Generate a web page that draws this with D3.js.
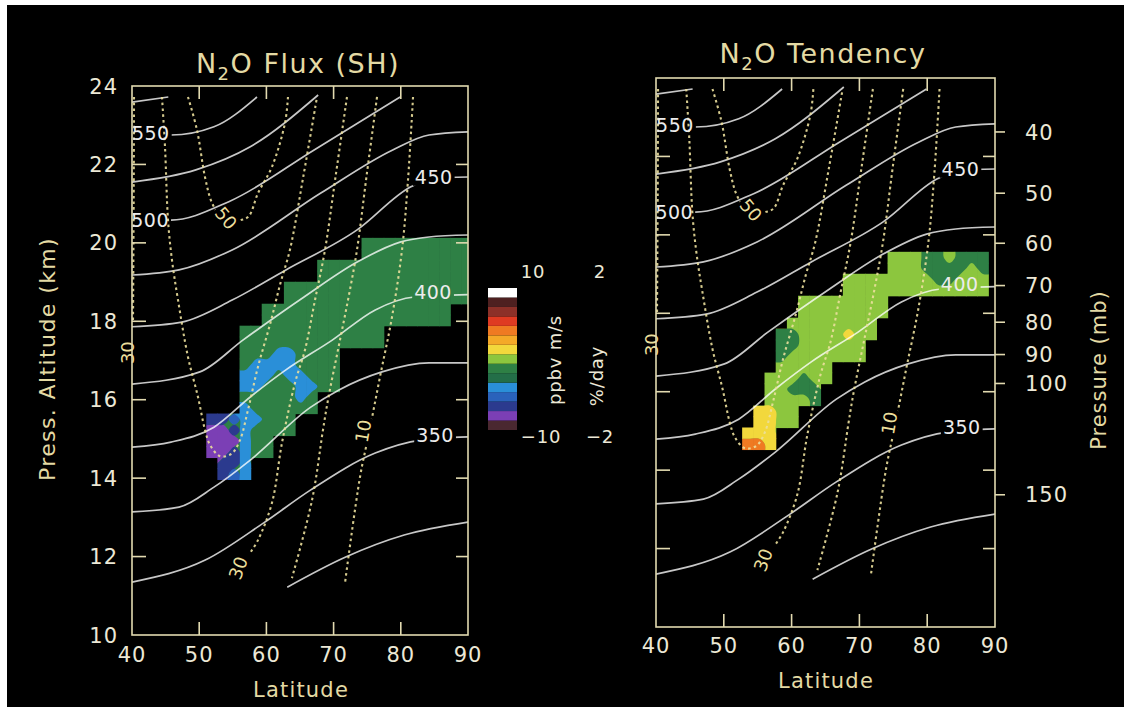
<!DOCTYPE html>
<html>
<head>
<meta charset="utf-8">
<title>N2O flux and tendency</title>
<script src="https://cdn.jsdelivr.net/npm/d3@7/dist/d3.min.js"></script>
<style>
  html, body { margin: 0; padding: 0; background: #ffffff; }
  svg { display: block; }
  text { font-family: "DejaVu Sans", "Liberation Sans", sans-serif; }
</style>
</head>
<body>
<svg id="fig" width="1124" height="707"></svg>
<script>
// ---------------- axes ----------------
const latTicks = [40, 50, 60, 70, 80, 90];
const latInnerTicks = [50, 60, 70, 80];
const kmTicks = [10, 12, 14, 16, 18, 20, 22, 24];
const kmInnerTicks = [12, 14, 16, 18, 20, 22];
const pressureTicks = [40, 50, 60, 70, 80, 90, 100, 150];
const scaleHeightKm = 7;
const surfacePressureMb = 1013.25;

// ---------------- potential temperature (K), solid contours: [lat, km] ----------------
const thetaLevels = [575, 550, 525, 500, 475, 450, 425, 400, 375, 350, 325];
const thetaLines = [
  [[40,23.59],[45.4,23.72]],
  [[40,22.83],[45.8,22.75],[52.2,22.96],[58.6,23.72]],
  [[40,21.55],[49.5,21.86],[57.6,22.45],[67.7,23.77]],
  [[40,20.58],[45.8,20.58],[54.4,21.05],[67.1,22.37],[79.9,23.72]],
  [[40,19.18],[47.0,19.31],[54.9,19.82],[68.1,21.27],[78.8,22.37],[84.2,22.75],[90,22.83]],
  [[40,17.86],[47.4,17.98],[54.9,18.54],[62.9,19.31],[73.5,20.33],[81.5,21.43],[85,21.66],[90,21.68]],
  [[40,16.40],[50.1,16.71],[56.5,17.52],[65.6,18.62],[73.5,19.51],[79.9,20.02],[84.2,20.15],[90,20.20]],
  [[40,14.79],[45.8,14.92],[52.2,15.30],[57.6,16.07],[62.9,16.76],[69.8,17.52],[76.2,18.29],[82.0,18.62],[90,18.68]],
  [[40,13.14],[47.0,13.26],[52.2,13.77],[57.6,14.46],[66.6,15.81],[70.8,16.25],[77.2,16.71],[84.2,16.94],[90,16.94]],
  [[40,11.35],[50.9,11.91],[59.6,12.86],[66.6,13.70],[76.2,14.64],[83.0,14.97],[90,15.05]],
  [[63.1,11.22],[71.8,11.99],[80.5,12.55],[90,12.88]]
];
const thetaLabelText = ["550", "500", "450", "400", "350"];
const thetaLabelLat  = [42.8, 42.7, 84.9, 84.8, 85.1];
const thetaLabelKm   = [22.80, 20.58, 21.68, 18.75, 15.10];

// ---------------- dotted contours: [lat, km] ----------------
const dotLevels = [30, 40, 50, 30, 20, 10];
const dotLines = [
  [[40.3,23.72],[40.25,21.0],[40.15,18.0]],
  [[44.46,23.72],[44.91,22.45],[45.36,20.58],[45.95,19.56],[46.85,18.54],[48.33,17.09],[49.82,16.07],[50.86,15.23],
   [51.61,14.85],[53.1,14.56],[54.8,14.62],[56.07,14.97],[57.26,15.74],[58.75,16.84],[60.6,17.96],[62.1,18.98],
   [63.5,19.82],[65.5,21.7],[67.53,23.72]],
  [[48.33,23.72],[49.67,22.88],[50.86,21.68],[51.9,21.02],[53.1,20.71],[55.33,20.58],[57.26,20.66],[58.75,21.27],
   [60.83,21.94],[62.77,23.06],[63.21,23.72]],
  [[71.99,23.72],[70.3,21.7],[68.72,19.82],[67.23,18.54],[65.74,17.27],[64.26,16.43],[62.32,14.90],[60.83,13.37],
   [58.75,12.42],[57.56,12.09]],
  [[76.46,23.72],[74.9,21.7],[73.48,19.82],[72.14,18.54],[70.65,17.27],[69.17,16.0],[68.42,15.23],[66.79,13.44],[63.8,11.45]],
  [[81.82,23.72],[81.07,21.6],[80.18,19.82],[78.69,18.11],[76.9,16.58],[75.27,15.15],[73.93,14.03],[71.7,11.33]]
];
const dotLabelText  = ["30", "50", "30", "10"];
const dotLabelLat   = [39.4, 54.0, 55.8, 74.4];
const dotLabelKm    = [17.20, 20.63, 11.71, 15.20];
const dotLabelAngle = [-90, 50, -70, -80];

// ---------------- colour scale ----------------
const levelColors = [
  "#4a2830", "#7b3fb5", "#2b3a8e", "#2a62bb", "#2a8fd8",
  "#236e48", "#2e8045", "#8cc63e", "#f2d83c", "#f4a928",
  "#ef7a22", "#df3a22", "#8c3028", "#4e2020", "#ffffff"
];
const fluxRange = [-10, 10];       // ppbv m/s
const tendencyRange = [-2, 2];     // %/day

// ---------------- gridded fields (hex digit = colour level, "." = no data) ----------------
const cellLat0 = 51.1, cellDLat = 1.65, cellKmTop = 20.12, cellDKm = 0.28;
const fluxCells = [
  "..............6666666666",
  "..............6666666666",
  "..........66666666666666",
  "..........66666666666666",
  ".......66666666666666666",
  ".......66666666666666666",
  ".....66666666666666666..",
  ".....66666666666666666..",
  "...6666666666666........",
  "...6666666666666........",
  "...666446666............",
  "...644446666............",
  "...444644666............",
  "...446664466............",
  "...6666646..............",
  "...4666666..............",
  "22344666................",
  "11246666................",
  "111466..................",
  "112466..................",
  ".224....................",
  ".234...................."
];
const tendencyCells = [
  "........................",
  "........................",
  "..............777667666.",
  "..............777666676.",
  "..........7777777766777.",
  "..........7777777777777.",
  "......77777777..........",
  "......77777777..........",
  ".....77777777...........",
  "....667777877...........",
  "....66777777............",
  "....67777777............",
  "....77777...............",
  "...777677...............",
  "...77666................",
  "...77776................",
  "..8877..................",
  "..8877..................",
  ".888....................",
  ".aa8....................",
  "........................",
  "........................"
];

// ---------------- drawing ----------------
const W = 1124, H = 707;
const FRAME = "#e2dab0", TICKTXT = "#ece8d6", TITLE = "#e4daa4", LINE = "#ffffff", DOT = "#ebdf9c";
const svg = d3.select("#fig");
const defs = svg.append("defs");

svg.append("rect").attr("width", W).attr("height", H).attr("fill", "#ffffff");
svg.append("rect").attr("x", 7).attr("y", 5).attr("width", W - 7).attr("height", H - 5).attr("fill", "#000000");

function parseCells(rows) {
  const ny = rows.length, nx = rows[0].length;
  const cls = new Array(nx * ny).fill(-1);
  rows.forEach((r, j) => {
    for (let i = 0; i < nx; i++) {
      const c = r[i] || ".";
      cls[j * nx + i] = c === "." ? -1 : parseInt(c, 16);
    }
  });
  return { nx, ny, cls };
}

// nearest-class fill outside the data area, then a one-cell pad,
// so smoothed patches run cleanly into the blocky edge of the data area
function extendCells(grid) {
  const { nx, ny } = grid;
  const out = grid.cls.slice();
  let frontier = [];
  out.forEach((v, k) => { if (v >= 0) frontier.push(k); });
  while (frontier.length) {
    const next = [];
    for (const k of frontier) {
      const i = k % nx, j = (k - i) / nx;
      for (const [di, dj] of [[1,0],[-1,0],[0,1],[0,-1]]) {
        const ii = i + di, jj = j + dj;
        if (ii < 0 || jj < 0 || ii >= nx || jj >= ny) continue;
        const kk = jj * nx + ii;
        if (out[kk] < 0) { out[kk] = out[k]; next.push(kk); }
      }
    }
    frontier = next;
  }
  const px = nx + 2, py = ny + 2, values = new Array(px * py);
  for (let j = 0; j < py; j++) for (let i = 0; i < px; i++) {
    const si = Math.min(nx - 1, Math.max(0, i - 1)), sj = Math.min(ny - 1, Math.max(0, j - 1));
    values[j * px + i] = out[sj * nx + si];
  }
  return { px, py, values };
}

const pressureKm = p => scaleHeightKm * Math.log(surfacePressureMb / p);

const panels = [
  { id: "flux", left: 132, right: 468, top: 86, bottom: 635, cells: fluxCells,
    title: "O Flux (SH)", titleX: 298, titleY: 73, kmLabels: true, pressure: false,
    latLabelY: 662, latTitleX: 301, latTitleY: 697 },
  { id: "tend", left: 656, right: 995, top: 78, bottom: 627, cells: tendencyCells,
    title: "O Tendency", titleX: 823, titleY: 63, kmLabels: false, pressure: true,
    latLabelY: 653, latTitleX: 826, latTitleY: 688 }
];

panels.forEach(p => {
  const x = d3.scaleLinear().domain([40, 90]).range([p.left, p.right]);
  const y = d3.scaleLinear().domain([10, 24]).range([p.bottom, p.top]);
  const latEdge = i => cellLat0 + i * cellDLat;
  const kmEdge = j => cellKmTop - j * cellDKm;

  defs.append("clipPath").attr("id", "plot-" + p.id).append("rect")
    .attr("x", p.left).attr("y", p.top).attr("width", p.right - p.left).attr("height", p.bottom - p.top);

  // ---- gridded field ----
  const grid = parseCells(p.cells);
  const cells = [];
  grid.cls.forEach((c, k) => { if (c >= 0) cells.push({ i: k % grid.nx, j: Math.floor(k / grid.nx), c }); });
  const domainClip = defs.append("clipPath").attr("id", "domain-" + p.id);
  domainClip.selectAll("rect").data(cells).join("rect")
    .attr("x", d => x(latEdge(d.i)) - 0.3)
    .attr("y", d => y(kmEdge(d.j)) - 0.3)
    .attr("width", d => x(latEdge(d.i + 1)) - x(latEdge(d.i)) + 0.6)
    .attr("height", d => y(kmEdge(d.j + 1)) - y(kmEdge(d.j)) + 0.6);

  const counts = d3.rollup(cells, v => v.length, d => d.c);
  const base = d3.greatest(counts, d => d[1])[0];
  const field = svg.append("g").attr("clip-path", `url(#plot-${p.id})`)
    .append("g").attr("clip-path", `url(#domain-${p.id})`);
  field.append("rect").attr("x", p.left).attr("y", p.top)
    .attr("width", p.right - p.left).attr("height", p.bottom - p.top)
    .attr("fill", levelColors[base]);

  const ext = extendCells(grid);
  const ring = d3.line()
    .x(d => x(cellLat0 + (d[0] - 1) * cellDLat))
    .y(d => y(cellKmTop - (d[1] - 1) * cellDKm))
    .curve(d3.curveCatmullRomClosed.alpha(0.5));
  const classes = Array.from(counts.keys()).filter(c => c !== base).sort((a, b) => a - b);
  classes.forEach(c => {
    const ind = ext.values.map(v => (v === c ? 1 : 0));
    const [shape] = d3.contours().size([ext.px, ext.py]).thresholds([0.5])(ind);
    const dStr = shape.coordinates.map(poly => poly.map(r => ring(r.slice(0, -1))).join("")).join("");
    field.append("path").attr("d", dStr).attr("fill", levelColors[c]).attr("fill-rule", "evenodd");
  });

  // ---- contour lines with gaps under their labels ----
  const mkMask = id => {
    const m = defs.append("mask").attr("id", id).attr("maskUnits", "userSpaceOnUse")
      .attr("x", 0).attr("y", 0).attr("width", W).attr("height", H);
    m.append("rect").attr("width", W).attr("height", H).attr("fill", "#fff");
    return m;
  };
  const solidMask = mkMask("mask-solid-" + p.id);
  const dotMask = mkMask("mask-dot-" + p.id);

  const lines = svg.append("g").attr("clip-path", `url(#plot-${p.id})`);
  const thetaPath = d3.line().x(d => x(d[0])).y(d => y(d[1])).curve(d3.curveMonotoneX);
  lines.append("g").attr("mask", `url(#mask-solid-${p.id})`)
    .selectAll("path").data(thetaLines).join("path")
    .attr("d", thetaPath).attr("fill", "none").attr("stroke", LINE)
    .attr("stroke-opacity", 0.78).attr("stroke-width", 1.7);

  const dotPath = d3.line().x(d => x(d[0])).y(d => y(d[1])).curve(d3.curveCatmullRom.alpha(0.5));
  lines.append("g").attr("mask", `url(#mask-dot-${p.id})`)
    .selectAll("path").data(dotLines).join("path")
    .attr("d", dotPath).attr("fill", "none").attr("stroke", DOT)
    .attr("stroke-opacity", 0.9).attr("stroke-width", 2.1)
    .attr("stroke-dasharray", "2.6 3.2");

  const labels = svg.append("g");
  labels.selectAll("text.theta").data(thetaLabelText).join("text").attr("class", "theta")
    .attr("transform", (t, i) => `translate(${x(thetaLabelLat[i])},${y(thetaLabelKm[i])})`)
    .attr("text-anchor", "middle").attr("dy", "0.36em")
    .attr("font-size", 19).attr("letter-spacing", 0.5).attr("fill", "#ececec").text(t => t)
    .each(function () {
      const b = this.getBBox();
      solidMask.append("rect").attr("transform", this.getAttribute("transform"))
        .attr("x", b.x - 2).attr("y", b.y + 2).attr("width", b.width + 4).attr("height", b.height - 4)
        .attr("fill", "#000");
    });
  labels.selectAll("text.dot").data(dotLabelText).join("text").attr("class", "dot")
    .attr("transform", (t, i) => `translate(${x(dotLabelLat[i])},${y(dotLabelKm[i])}) rotate(${dotLabelAngle[i]})`)
    .attr("text-anchor", "middle").attr("dy", "0.36em")
    .attr("font-size", 18).attr("fill", DOT).text(t => t)
    .each(function () {
      const b = this.getBBox();
      dotMask.append("rect").attr("transform", this.getAttribute("transform"))
        .attr("x", b.x - 2).attr("y", b.y + 1).attr("width", b.width + 4).attr("height", b.height - 2)
        .attr("fill", "#000");
    });

  // ---- frame and ticks ----
  const fr = svg.append("g").attr("stroke", FRAME).attr("stroke-width", 1.6).attr("fill", "none");
  fr.append("rect").attr("x", p.left).attr("y", p.top)
    .attr("width", p.right - p.left).attr("height", p.bottom - p.top);
  fr.selectAll("line.b").data(latInnerTicks).join("line").attr("class", "b")
    .attr("x1", d => x(d)).attr("x2", d => x(d)).attr("y1", p.bottom).attr("y2", p.bottom - 13);
  fr.selectAll("line.t").data(latInnerTicks).join("line").attr("class", "t")
    .attr("x1", d => x(d)).attr("x2", d => x(d)).attr("y1", p.top).attr("y2", p.top + 13);
  fr.selectAll("line.l").data(kmInnerTicks).join("line").attr("class", "l")
    .attr("x1", p.left).attr("x2", p.left + 14).attr("y1", d => y(d)).attr("y2", d => y(d));
  fr.selectAll("line.r").data(kmInnerTicks).join("line").attr("class", "r")
    .attr("x1", p.right).attr("x2", p.right - 12).attr("y1", d => y(d)).attr("y2", d => y(d));

  svg.append("g").selectAll("text").data(latTicks).join("text")
    .attr("x", d => x(d)).attr("y", p.latLabelY).attr("text-anchor", "middle")
    .attr("font-size", 21).attr("letter-spacing", 1).attr("fill", TICKTXT).text(d => d);
  svg.append("text").attr("x", p.latTitleX).attr("y", p.latTitleY).attr("text-anchor", "middle")
    .attr("font-size", 21).attr("letter-spacing", 1.2).attr("fill", TITLE).text("Latitude");

  if (p.kmLabels) {
    svg.append("g").selectAll("text").data(kmTicks).join("text")
      .attr("x", 118).attr("y", d => y(d)).attr("dy", "0.36em").attr("text-anchor", "end")
      .attr("font-size", 21).attr("letter-spacing", 1).attr("fill", TICKTXT).text(d => d);
    svg.append("text").attr("transform", "translate(47,359) rotate(-90)")
      .attr("text-anchor", "middle").attr("dy", "0.36em")
      .attr("font-size", 22).attr("letter-spacing", 1.4).attr("fill", TITLE).text("Press. Altitude (km)");
  }
  if (p.pressure) {
    fr.selectAll("line.p").data(pressureTicks).join("line").attr("class", "p")
      .attr("x1", p.right).attr("x2", p.right + 10)
      .attr("y1", d => y(pressureKm(d))).attr("y2", d => y(pressureKm(d)));
    svg.append("g").selectAll("text").data(pressureTicks).join("text")
      .attr("x", 1025).attr("y", d => y(pressureKm(d))).attr("dy", "0.36em")
      .attr("font-size", 21).attr("letter-spacing", 1).attr("fill", TICKTXT).text(d => d);
    svg.append("text").attr("transform", "translate(1098,370) rotate(-90)")
      .attr("text-anchor", "middle").attr("dy", "0.36em")
      .attr("font-size", 21).attr("letter-spacing", 1).attr("fill", TITLE).text("Pressure (mb)");
  }

  const t = svg.append("text").attr("x", p.titleX).attr("y", p.titleY)
    .attr("text-anchor", "middle").attr("font-size", 27).attr("letter-spacing", 1.5).attr("fill", TITLE);
  t.append("tspan").text("N");
  t.append("tspan").attr("font-size", 18).attr("dy", 7).text("2");
  t.append("tspan").attr("dy", -7).text(p.title);
});

// ---------------- colour bar ----------------
const barY = d3.scaleLinear().domain(fluxRange).range([430, 288]);
const barStep = (fluxRange[1] - fluxRange[0]) / levelColors.length;
svg.append("g").selectAll("rect").data(levelColors).join("rect")
  .attr("x", 488).attr("width", 29)
  .attr("y", (c, i) => barY(fluxRange[0] + (i + 1) * barStep))
  .attr("height", (c, i) => barY(fluxRange[0] + i * barStep) - barY(fluxRange[0] + (i + 1) * barStep))
  .attr("fill", c => c);
const fmt = d3.format("d");
const barText = svg.append("g").attr("font-size", 18).attr("letter-spacing", 0.8)
  .attr("fill", TICKTXT).attr("text-anchor", "middle");
barText.append("text").attr("x", 533).attr("y", barY(fluxRange[1]) - 10).text(fmt(fluxRange[1]));
barText.append("text").attr("x", 541).attr("y", barY(fluxRange[0]) + 13).text(fmt(fluxRange[0]));
barText.append("text").attr("x", 600).attr("y", barY(fluxRange[1]) - 10).text(fmt(tendencyRange[1]));
barText.append("text").attr("x", 600).attr("y", barY(fluxRange[0]) + 13).text(fmt(tendencyRange[0]));
barText.append("text").attr("transform", "translate(555,360) rotate(-90)").attr("dy", "0.36em").text("ppbv m/s");
barText.append("text").attr("transform", "translate(597,376) rotate(-90)").attr("dy", "0.36em").text("%/day");
</script>
</body>
</html>
